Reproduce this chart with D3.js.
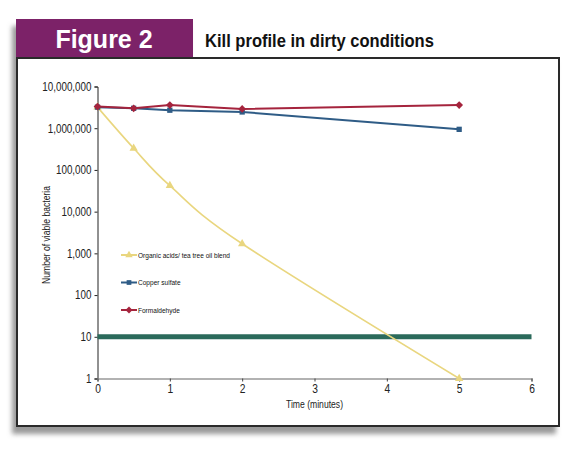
<!DOCTYPE html>
<html lang="en">
<head>
    <meta charset="UTF-8">
    <title>Figure 2 - Kill profile in dirty conditions</title>
    <style>
        body { margin: 0; background: #fff; }
        svg { display: block; }
        .tick text { font-family: 'Liberation Sans', Arial, sans-serif; fill: #222; }
    </style>
</head>
<body>
    <svg width="575" height="449"></svg>
    <script src="https://d3js.org/d3.v7.min.js"></script>
    <script>
        // Data
        const times = [0, 0.5, 1, 2, 5];
        const organic = [3200000, 330000, 42000, 1700, 1];
        const copper = [3200000, 3000000, 2700000, 2450000, 940000];
        const formaldehyde = [3300000, 3000000, 3600000, 2900000, 3600000];
        const thresholdTimes = [0, 6];
        const thresholdValue = [10, 10];
        const xTicks = [0, 1, 2, 3, 4, 5, 6];
        const yTicks = [1, 10, 100, 1000, 10000, 100000, 1000000, 10000000];
        const seriesNames = ["Organic acids/ tea tree oil blend", "Copper sulfate", "Formaldehyde"];

        const FONT = "'Liberation Sans', Arial, sans-serif";

        // squeeze a text element horizontally around its own anchor x (fake condensed face)
        function narrow(sel, k) {
            k = k || 0.82;
            sel.each(function() {
                const t = d3.select(this);
                const ax = +t.attr("x") || 0;
                t.attr("transform", "translate(" + ax + ",0) scale(" + k + ",1) translate(" + (-ax) + ",0)");
            });
        }

        const svg = d3.select("svg");

        // drop shadow for the frame
        const defs = svg.append("defs");
        const f = defs.append("filter").attr("id", "shadow")
            .attr("x", "-10%").attr("y", "-10%").attr("width", "120%").attr("height", "130%");
        f.append("feDropShadow")
            .attr("dx", -4).attr("dy", 7)
            .attr("stdDeviation", 2.5)
            .attr("flood-color", "#777")
            .attr("flood-opacity", 0.75);

        const frame = svg.append("g").attr("filter", "url(#shadow)");
        frame.append("rect")
            .attr("x", 16).attr("y", 19).attr("width", 177).attr("height", 39)
            .attr("fill", "#7b2467");
        frame.append("rect")
            .attr("x", 17).attr("y", 58).attr("width", 542).attr("height", 368)
            .attr("fill", "#fff").attr("stroke", "#2a2a2a").attr("stroke-width", 2);

        // header texts
        svg.append("text")
            .attr("x", 104).attr("y", 48)
            .attr("text-anchor", "middle")
            .attr("font-family", FONT)
            .attr("font-weight", "bold")
            .attr("font-size", 25)
            .attr("fill", "#fff")
            .text("Figure 2");
        svg.append("text")
            .attr("x", 205).attr("y", 47)
            .attr("font-family", FONT)
            .attr("font-weight", "bold")
            .attr("font-size", 18)
            .attr("fill", "#111")
            .text("Kill profile in dirty conditions")
            .call(narrow, 0.92);

        // scales
        const x = d3.scaleLinear().domain([0, 6]).range([97.5, 531.5]);
        const y = d3.scaleLog().domain([1, 10000000]).range([378.5, 86.5]);

        // axes
        const yAxis = svg.append("g")
            .attr("transform", "translate(" + x(0) + ",0)")
            .call(d3.axisLeft(y).tickValues(yTicks).tickFormat(d3.format(",")).tickSize(3).tickPadding(3));
        yAxis.selectAll("path, line").attr("stroke", "#222");
        yAxis.selectAll("text").attr("font-size", 12).call(narrow);

        const xAxis = svg.append("g")
            .attr("transform", "translate(0," + y(1) + ")")
            .call(d3.axisBottom(x).tickValues(xTicks).tickFormat(d3.format("d")).tickSize(3).tickSizeOuter(3).tickPadding(3));
        xAxis.select("path").attr("stroke", "#999").attr("stroke-width", 1.5);
        xAxis.selectAll("line").attr("stroke", "#444");
        xAxis.selectAll("text").attr("font-size", 12.5).call(narrow);

        // axis titles
        svg.append("text")
            .attr("x", x(3)).attr("y", 408)
            .attr("text-anchor", "middle")
            .attr("font-family", FONT)
            .attr("font-size", 10.5)
            .attr("fill", "#222")
            .text("Time (minutes)")
            .call(narrow);
        svg.append("g")
            .attr("transform", "translate(50,235) rotate(-90)")
            .append("text")
            .attr("text-anchor", "middle")
            .attr("font-family", FONT)
            .attr("font-size", 10.5)
            .attr("fill", "#222")
            .text("Number of viable bacteria")
            .call(narrow);

        // threshold line at 10
        svg.append("path")
            .datum(thresholdTimes.map((t, i) => [t, thresholdValue[i]]))
            .attr("fill", "none")
            .attr("stroke", "#2b6a5b")
            .attr("stroke-width", 5)
            .attr("d", d3.line().x(d => x(d[0])).y(d => y(d[1])));

        const colors = ["#e9d67f", "#2f5c86", "#a5243d"];
        const symbols = [d3.symbolTriangle, d3.symbolSquare, d3.symbolSquare];
        const rotations = [0, 0, 45];
        const sizes = [30, 28, 30];
        const allSeries = [organic, copper, formaldehyde];
        const curves = [d3.curveCatmullRom.alpha(0), d3.curveLinear, d3.curveLinear];
        const widths = [1.6, 2, 2];

        allSeries.forEach(function(vals, i) {
            const pts = times.map((t, j) => [t, vals[j]]);
            svg.append("path")
                .datum(pts)
                .attr("fill", "none")
                .attr("stroke", colors[i])
                .attr("stroke-width", widths[i])
                .attr("d", d3.line().x(d => x(d[0])).y(d => y(d[1])).curve(curves[i]));
            svg.selectAll(".m" + i)
                .data(pts)
                .enter().append("path")
                .attr("class", "m" + i)
                .attr("transform", d => "translate(" + x(d[0]) + "," + y(d[1]) + ") rotate(" + rotations[i] + ")")
                .attr("d", d3.symbol().type(symbols[i]).size(sizes[i]))
                .attr("fill", colors[i]);
        });

        // legend
        const legend = svg.selectAll(".legend")
            .data(seriesNames)
            .enter().append("g")
            .attr("class", "legend")
            .attr("transform", (d, i) => "translate(121," + (255 + 27.5 * i) + ")");
        legend.append("line")
            .attr("x1", 0).attr("x2", 16)
            .attr("stroke", (d, i) => colors[i])
            .attr("stroke-width", 2);
        legend.append("path")
            .attr("transform", (d, i) => "translate(8,0) rotate(" + rotations[i] + ")")
            .attr("d", (d, i) => d3.symbol().type(symbols[i]).size(sizes[i] * 0.8)())
            .attr("fill", (d, i) => colors[i]);
        legend.append("text")
            .attr("x", 17).attr("dy", "0.35em")
            .attr("font-family", FONT)
            .attr("font-size", 8)
            .attr("fill", "#111")
            .text(d => d)
            .call(narrow);
    </script>
</body>
</html>
